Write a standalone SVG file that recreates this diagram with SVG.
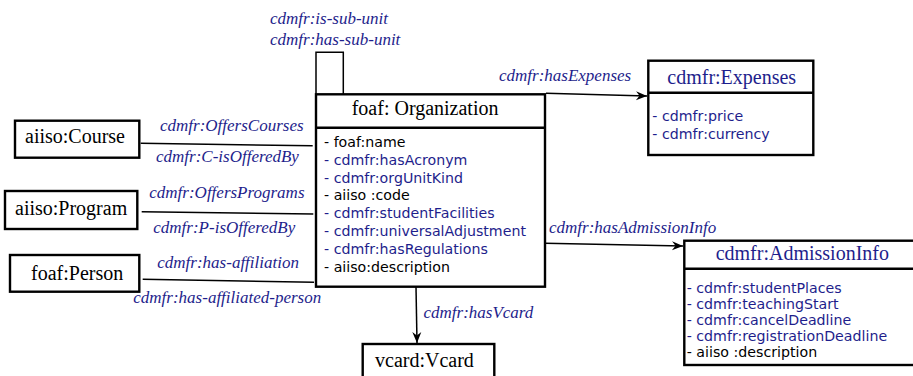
<svg xmlns="http://www.w3.org/2000/svg" width="913" height="376" viewBox="0 0 913 376">
<defs>
<style>
.box{fill:#fff;stroke:#000;stroke-width:2.4}
.sep{stroke:#000;stroke-width:2.4;fill:none}
.title{font-family:"Liberation Serif","Times New Roman",serif;font-size:20px;fill:#000}
.btitle{font-family:"Liberation Serif","Times New Roman",serif;font-size:20px;fill:#1e1e8c}
.attr{font-family:"DejaVu Sans",Verdana,sans-serif;font-size:14.2px;fill:#000}
.battr{font-family:"DejaVu Sans",Verdana,sans-serif;font-size:14.2px;fill:#1e1e8c}
.lbl{font-family:"Liberation Serif","Times New Roman",serif;font-style:italic;font-size:17px;fill:#1e1e8c}
.conn{stroke:#000;stroke-width:1.5;fill:none}
</style>
<marker id="arr" markerUnits="userSpaceOnUse" viewBox="-12 -6 14 12" refX="0" refY="0" markerWidth="14" markerHeight="12" orient="auto">
<path d="M0,0 L-11,-4.5 L-7.5,0 L-11,4.5 Z" fill="#000"/>
</marker>
</defs>
<rect width="913" height="376" fill="#fff"/>
<g id="connectors">
<path class="conn" d="M316,94 V52.3 H343.3 V94"/>
<path class="conn" d="M140.7,143.3 L312.7,145.7"/>
<path class="conn" d="M141.7,211.7 L313.3,214"/>
<path class="conn" d="M142.7,279.3 L314,282.3"/>
<path class="conn" d="M546,93.3 L647,96" marker-end="url(#arr)"/>
<path class="conn" d="M545,243.3 L683,246" marker-end="url(#arr)"/>
<path class="conn" d="M416,287 L417,343" marker-end="url(#arr)"/>
<text class="lbl" x="270" y="23.5">cdmfr:is-sub-unit</text>
<text class="lbl" x="270" y="44.5">cdmfr:has-sub-unit</text>
<text class="lbl" x="160" y="130.7">cdmfr:OffersCourses</text>
<text class="lbl" x="156" y="162.3">cdmfr:C-isOfferedBy</text>
<text class="lbl" x="149.3" y="198.3">cdmfr:OffersPrograms</text>
<text class="lbl" x="153.3" y="232.7">cdmfr:P-isOfferedBy</text>
<text class="lbl" x="157.3" y="268.3">cdmfr:has-affiliation</text>
<text class="lbl" x="133.3" y="303.3">cdmfr:has-affiliated-person</text>
<text class="lbl" x="499" y="80.7">cdmfr:hasExpenses</text>
<text class="lbl" x="549" y="233.3">cdmfr:hasAdmissionInfo</text>
<text class="lbl" x="423.5" y="317.5">cdmfr:hasVcard</text>
</g>
<g id="course">
<rect class="box" x="15" y="120.7" width="124.3" height="37"/>
<text class="title" x="25" y="143.3">aiiso:Course</text>
</g>
<g id="program">
<rect class="box" x="5" y="191" width="132.3" height="38"/>
<text class="title" x="15" y="215">aiiso:Program</text>
</g>
<g id="person">
<rect class="box" x="10" y="255" width="129.3" height="36.7"/>
<text class="title" x="31" y="280">foaf:Person</text>
</g>
<g id="organization">
<rect class="box" x="316" y="94.3" width="229" height="192.4"/>
<line class="sep" x1="316" y1="127.7" x2="545" y2="127.7"/>
<text class="title" x="351.7" y="115">foaf: Organization</text>
<text class="attr" x="324" y="147">- foaf:name</text>
<text class="battr" x="324" y="165">- cdmfr:hasAcronym</text>
<text class="battr" x="324" y="182.5">- cdmfr:orgUnitKind</text>
<text class="attr" x="324" y="200.3">- aiiso :code</text>
<text class="battr" x="324" y="218.3">- cdmfr:studentFacilities</text>
<text class="battr" x="324" y="236">- cdmfr:universalAdjustment</text>
<text class="battr" x="324" y="254">- cdmfr:hasRegulations</text>
<text class="attr" x="324" y="272">- aiiso:description</text>
</g>
<g id="expenses">
<rect class="box" x="648.3" y="60.7" width="165" height="94.3"/>
<line class="sep" x1="648.3" y1="92.7" x2="813.3" y2="92.7"/>
<text class="btitle" x="667.3" y="84.3">cdmfr:Expenses</text>
<text class="battr" x="652.3" y="121">- cdmfr:price</text>
<text class="battr" x="652.3" y="139">- cdmfr:currency</text>
</g>
<g id="admissioninfo">
<rect class="box" x="684.3" y="240.7" width="240" height="124.3"/>
<line class="sep" x1="684.3" y1="268.7" x2="924" y2="268.7"/>
<text class="btitle" x="715.7" y="260">cdmfr:AdmissionInfo</text>
<text class="battr" x="686.7" y="293.3">- cdmfr:studentPlaces</text>
<text class="battr" x="686.7" y="309">- cdmfr:teachingStart</text>
<text class="battr" x="686.7" y="325">- cdmfr:cancelDeadline</text>
<text class="battr" x="686.7" y="341">- cdmfr:registrationDeadline</text>
<text class="attr" x="686.7" y="356.7">- aiiso :description</text>
</g>
<g id="vcard">
<rect class="box" x="362.7" y="344" width="131.6" height="40"/>
<text class="title" x="375" y="367.3">vcard:Vcard</text>
</g>
</svg>
